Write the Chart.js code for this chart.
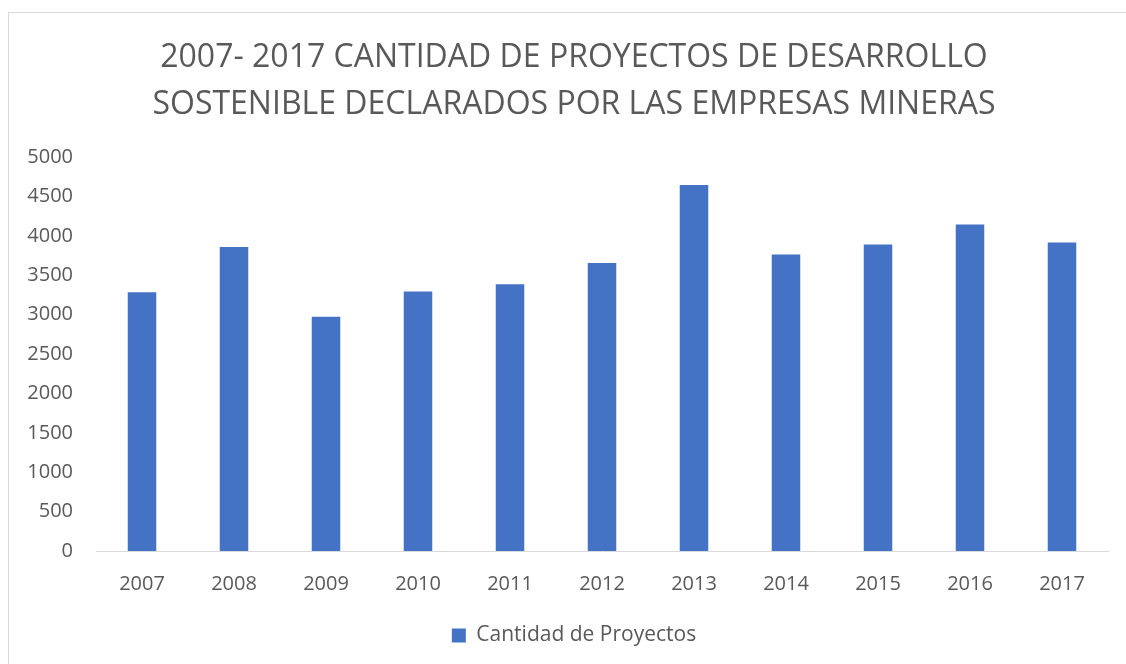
<!DOCTYPE html>
<html lang="es">
<head>
    <meta charset="UTF-8">
    <title>Proyectos de Desarrollo Sostenible</title>
    <style>
        body {
            margin: 0;
            padding: 0;
            background-color: #ffffff;
            overflow: hidden;
        }

        .chart-box {
            position: absolute;
            left: 8px;
            top: 12px;
            width: 1130px;
            height: 670px;
            border: 1px solid #d9d9d9;
            background-color: #ffffff;
        }
    </style>
</head>
<body>
    <div class="chart-box">
        <canvas id="graphCanvas"></canvas>
    </div>

    <script src="https://cdn.jsdelivr.net/npm/chart.js"></script>
    <script>
        // Data
        var years = ['2007', '2008', '2009', '2010', '2011', '2012', '2013', '2014', '2015', '2016', '2017'];
        var projects = [3283, 3858, 2973, 3295, 3385, 3655, 4645, 3762, 3889, 4144, 3915];
        var yTicks = [0, 500, 1000, 1500, 2000, 2500, 3000, 3500, 4000, 4500, 5000];

        var textColor = '#595959';
        var fontName = "'Open Sans', 'Noto Sans', sans-serif";

        // y labels stick out into the left padding, so don't clip them
        var unclipYLabels = {
            id: 'unclipYLabels',
            afterLayout: function(chart) {
                chart.scales.y.left = 0;
            }
        };

        var ctx = document.getElementById('graphCanvas').getContext('2d');

        new Chart(ctx, {
            type: 'bar',
            data: {
                labels: years,
                datasets: [{
                    label: 'Cantidad de Proyectos',
                    data: projects,
                    backgroundColor: '#4472C4',
                    borderWidth: 0,
                    barPercentage: 0.62,
                    categoryPercentage: 0.5
                }]
            },
            plugins: [unclipYLabels],
            options: {
                responsive: true,
                maintainAspectRatio: false,
                animation: false,
                layout: {
                    padding: { top: 21, left: 31, right: 31, bottom: 27 }
                },
                plugins: {
                    title: {
                        display: true,
                        text: ['2007- 2017 CANTIDAD DE PROYECTOS DE DESARROLLO',
                               'SOSTENIBLE DECLARADOS POR LAS EMPRESAS MINERAS'],
                        color: textColor,
                        font: { family: fontName, size: 32, weight: 'normal', lineHeight: 1.47 },
                        padding: { top: 0, bottom: 29 }
                    },
                    legend: {
                        position: 'bottom',
                        labels: {
                            color: textColor,
                            font: { family: fontName, size: 21 },
                            boxWidth: 14,
                            boxHeight: 14,
                            padding: 8
                        }
                    },
                    tooltip: { enabled: false }
                },
                scales: {
                    x: {
                        grid: { display: false, drawTicks: false },
                        border: { display: true, color: '#d9d9d9', width: 1 },
                        ticks: {
                            color: textColor,
                            font: { family: fontName, size: 20 },
                            padding: 21
                        }
                    },
                    y: {
                        min: 0,
                        max: 5000,
                        afterBuildTicks: function(axis) {
                            axis.ticks = yTicks.map(function(v) { return { value: v }; });
                        },
                        afterFit: function(axis) {
                            axis.width = 56;
                        },
                        grid: { display: false, drawTicks: false },
                        border: { display: false },
                        ticks: {
                            color: textColor,
                            font: { family: fontName, size: 20 },
                            padding: 23,
                            callback: function(value) { return String(value); }
                        }
                    }
                }
            }
        });
    </script>
</body>
</html>
